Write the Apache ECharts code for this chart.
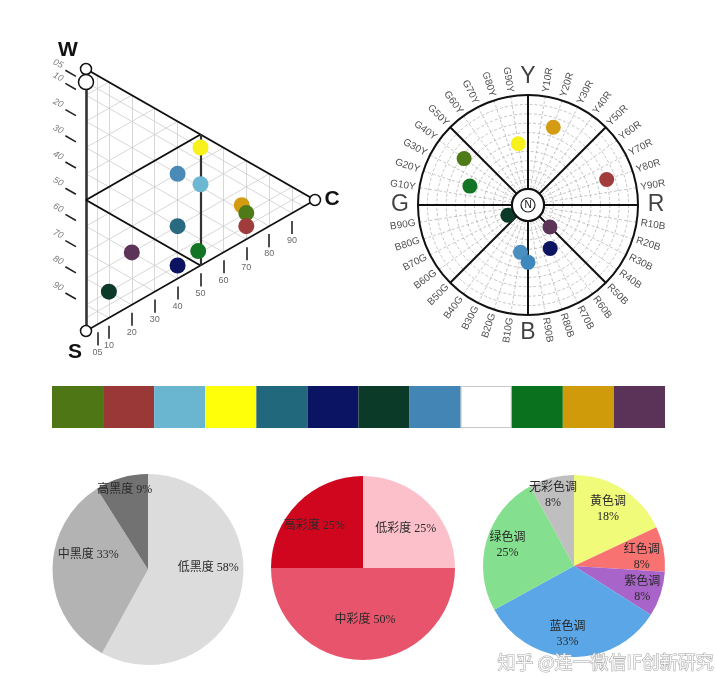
<!DOCTYPE html>
<html><head><meta charset="utf-8">
<script src="https://cdn.jsdelivr.net/npm/echarts@6/dist/echarts.min.js"></script>
<style>html,body{margin:0;padding:0;background:#fff}#c{width:715px;height:696px}</style>
</head><body><div id="c"></div>
<script>
// ---------- NCS triangle: blackness s, chromaticness c ----------
const triColors  = ['#f7f21c','#4a8ab6','#6cb8d2','#d49c12','#4f7a18','#a03c3c','#2a6a80','#127424','#5c3458','#0c1462','#0c3a28'];
const triBlack   = [5, 20, 19, 18, 20, 25, 40, 45, 60, 55, 80];
const triChroma  = [50, 40, 50, 68, 70, 70, 40, 49, 20, 40, 10];
const triTicks   = [5, 10, 20, 30, 40, 50, 60, 70, 80, 90];
const triTickLabels = ['05','10','20','30','40','50','60','70','80','90'];
const rhombusAt  = 50;
const vertexNames = ['W', '', 'S', 'C'];
const vertexBlack = [0, 5, 100, 0];
const vertexChroma = [0, 0, 0, 100];

// ---------- NCS hue circle ----------
const primaries = ['Y', 'R', 'B', 'G'];
const hueSteps  = [10, 20, 30, 40, 50, 60, 70, 80, 90];
const hueNames  = ['G90Y','Y20R','Y80R','G40Y','G20Y','B70G','R50B','R70B','B10G','B'];
const hueChroma = [49, 70, 71, 67, 48, 7, 16, 35, 34, 44];
const hueColors = ['#f7f21c','#d49c12','#a03c3c','#4f7a18','#127424','#0c3a28','#5c3458','#0c1462','#4a8fc0','#3f88bb'];

// ---------- swatches ----------
const swatchColors = ['#4e7614','#9a3838','#6ab5cf','#ffff0a','#22687c','#0b1462','#0c3a28','#4386b6','#ffffff','#0a721f','#cf9b0a','#5b3358'];

// ---------- pies ----------
const blackNames  = ['低黑度', '中黑度', '高黑度'];
const blackValues = [58, 33, 9];
const chromaNames  = ['低彩度', '中彩度', '高彩度'];
const chromaValues = [25, 50, 25];
const toneNames  = ['黄色调', '红色调', '紫色调', '蓝色调', '绿色调', '无彩色调'];
const toneValues = [18, 8, 8, 33, 25, 8];

// style tables
const blackColors  = ['#dcdcdc', '#b3b3b3', '#727272'];
const chromaColors = ['#fcc0ca', '#e8546b', '#d0061f'];
const toneColors   = ['#f0fb7a', '#f87272', '#a864c8', '#5aa6e6', '#84e08e', '#bfbfbf'];
const blackNudge  = [[11,-14],[-9,-16],[-9,-31]];
const chromaNudge = [[8,-5],[2,3],[-14,-8]];
const toneNudge   = [[8,-16],[20,0],[22,8],[-5,20],[-20,-7],[-9,-24]];

// ---------- helpers ----------
const P = (s, c) => [c, s + c / 2];
function hueAngle(h) {
  const base = {Y: 0, R: 90, B: 180, G: 270};
  if (h.length === 1) return base[h];
  const m = h.match(/^([YRBG])(\d+)([YRBG])$/);
  return base[m[1]] + (+m[2]) * 0.9;
}

// triangle geometry
const gridLines = [];
triTicks.forEach(t => {
  gridLines.push({coords: [P(0, t), P(100 - t, t)]});
  gridLines.push({coords: [P(t, 0), P(t, 100 - t)]});
  gridLines.push({coords: [P(100 - t, 0), P(0, 100 - t)]});
});
const edges = [
  {coords: [P(0, 0), P(0, 100)], lineStyle: {width: 2, color: '#111', opacity: 1}},
  {coords: [P(100, 0), P(0, 100)], lineStyle: {width: 1.6, color: '#111', opacity: 1}},
  {coords: [P(5, 0), P(100, 0)], lineStyle: {width: 2.6, color: '#333', opacity: 1}}
];
const rhombus = [
  {coords: [P(rhombusAt, 0), P(0, rhombusAt)], lineStyle: {width: 2, color: '#111', opacity: 1}},
  {coords: [P(rhombusAt, 0), P(rhombusAt, rhombusAt)], lineStyle: {width: 2, color: '#111', opacity: 1}},
  {coords: [P(0, rhombusAt), P(rhombusAt, rhombusAt)], lineStyle: {width: 2.2, color: '#333', opacity: 1}}
];
const leftDashes = triTicks.map(t => ({coords: [P(t, -9), P(t, -4.4)]}));
const bottomDashes = triTicks.map(t => ({coords: [[t, 100 - t / 2 + 3], [t, 100 - t / 2 + 8]]}));
const leftLabels = triTicks.map((t, i) => ({value: P(t, -12.6), name: triTickLabels[i]}));
const bottomLabels = triTicks.map((t, i) => ({value: [t, 100 - t / 2 + 10.6], name: triTickLabels[i]}));
const vertexOffsets = {W: [-18, -19], S: [-11, 21], C: [17, -1]};
const vertices = vertexNames.map((n, i) => ({
  value: P(vertexBlack[i], vertexChroma[i]),
  symbolSize: n === '' ? 15 : 11,
  label: n ? {show: true, formatter: n, offset: vertexOffsets[n]} : {show: false}
}));
const triPoints = triBlack.map((s, i) => ({value: P(s, triChroma[i]), itemStyle: {color: triColors[i], opacity: 1}}));

// circle
const hueLabelData = [];
primaries.forEach((p, i) => {
  const q = primaries[(i + 1) % 4];
  hueSteps.forEach(n => {
    const name = p + n + q;
    const a = hueAngle(name);
    const theta = 90 - a;
    const right = a < 180;
    hueLabelData.push({name, value: [114, a],
      label: {rotate: right ? theta : theta + 180, align: right ? 'left' : 'right'}});
  });
});
const primaryLabelData = primaries.map(p => ({name: p, value: [128, hueAngle(p)]}));
const huePoints = hueNames.map((h, i) => ({value: [hueChroma[i], hueAngle(h)], itemStyle: {color: hueColors[i], opacity: 1}}));
const spokes = [0, 45, 90, 135, 180, 225, 270, 315].map(a => ({
  type: 'line', coordinateSystem: 'polar', polarIndex: 0, data: [[0, a], [100, a]],
  symbol: 'none', silent: true, lineStyle: {color: '#111', width: 2, opacity: 1}, z: 3, animation: false
}));

const labelFont = "'Liberation Serif','DejaVu Serif','Noto Sans CJK SC',serif";
function pie(names, values, colors, nudge, center, radius, fmt) {
  return {
    type: 'pie', center, radius, startAngle: 90, clockwise: true, animation: false,
    data: names.map((n, i) => ({name: n, value: values[i], itemStyle: {color: colors[i]}})),
    label: {show: true, position: 'inner', formatter: fmt, color: '#2a2a2a', fontSize: 12, lineHeight: 15, fontFamily: labelFont},
    labelLine: {show: false},
    labelLayout: p => ({dx: nudge[p.dataIndex][0], dy: nudge[p.dataIndex][1]}),
    emphasis: {disabled: true}
  };
}

const chart = echarts.init(document.getElementById('c'), null, {renderer: 'canvas'});
chart.setOption({
  backgroundColor: '#fff',
  animation: false,
  grid: [
    {left: 40.2, top: 42.8, width: 297.7, height: 327.5},
    {left: 52, top: 386, width: 613, height: 42}
  ],
  xAxis: [
    {gridIndex: 0, type: 'value', min: -20, max: 110, show: false},
    {gridIndex: 1, type: 'category', data: swatchColors.map((c, i) => String(i)), show: false}
  ],
  yAxis: [
    {gridIndex: 0, type: 'value', min: -10, max: 115, inverse: true, show: false},
    {gridIndex: 1, type: 'value', min: 0, max: 1, show: false}
  ],
  polar: [
    {center: [528, 205], radius: [16, 110]},
    {center: [528, 205], radius: [0, 140]}
  ],
  angleAxis: [
    {polarIndex: 0, type: 'value', min: 0, max: 360, interval: 9, startAngle: 90, clockwise: true,
     axisLine: {show: true, lineStyle: {color: '#111', width: 2}}, axisTick: {show: false}, axisLabel: {show: false},
     splitLine: {show: true, lineStyle: {color: '#a0a0a0', width: 0.6, type: [3, 2]}}},
    {polarIndex: 1, type: 'value', min: 0, max: 360, startAngle: 90, clockwise: true, show: false}
  ],
  radiusAxis: [
    {polarIndex: 0, type: 'value', min: 0, max: 100, interval: 10,
     axisLine: {show: false}, axisTick: {show: false}, axisLabel: {show: false},
     splitLine: {show: true, lineStyle: {color: '#a0a0a0', width: 0.6, type: [3, 2]}}},
    {polarIndex: 1, type: 'value', min: 0, max: 140, show: false}
  ],
  graphic: [{
    type: 'text', left: 497, top: 653, silent: true, z: 100,
    style: {text: '知乎 @连一微信IF创新研究', font: "18px 'Noto Sans CJK SC'", fill: 'rgba(255,255,255,0.85)', stroke: '#a9a9a9', lineWidth: 1}
  }],
  series: [
    // triangle
    {type: 'lines', coordinateSystem: 'cartesian2d', xAxisIndex: 0, yAxisIndex: 0, data: gridLines, silent: true,
     lineStyle: {color: '#cdcdcd', width: 0.8, opacity: 1}, z: 1},
    {type: 'lines', coordinateSystem: 'cartesian2d', xAxisIndex: 0, yAxisIndex: 0, data: leftDashes.concat(bottomDashes), silent: true,
     lineStyle: {color: '#222', width: 1.6, opacity: 1}, z: 2},
    {type: 'lines', coordinateSystem: 'cartesian2d', xAxisIndex: 0, yAxisIndex: 0, data: edges.concat(rhombus), silent: true,
     lineStyle: {opacity: 1}, z: 3},
    {type: 'scatter', xAxisIndex: 0, yAxisIndex: 0, data: triPoints, symbolSize: 16, clip: false, z: 4, silent: true,
     itemStyle: {opacity: 1}},
    {type: 'scatter', xAxisIndex: 0, yAxisIndex: 0, data: vertices, clip: false, z: 5, silent: true,
     itemStyle: {color: '#fff', borderColor: '#111', borderWidth: 1.5, opacity: 1},
     label: {fontSize: 21, fontWeight: 'bold', color: '#111', fontFamily: "'Liberation Sans',Arial,sans-serif", position: 'inside'}},
    {type: 'scatter', xAxisIndex: 0, yAxisIndex: 0, data: leftLabels, symbolSize: 1, clip: false, silent: true,
     itemStyle: {color: 'rgba(0,0,0,0)'},
     label: {show: true, position: 'inside', formatter: '{b}', rotate: -28, fontSize: 9, fontStyle: 'italic', color: '#555', offset: [0, -2],
             fontFamily: "'Liberation Sans',Arial,sans-serif"}},
    {type: 'scatter', xAxisIndex: 0, yAxisIndex: 0, data: bottomLabels, symbolSize: 1, clip: false, silent: true,
     itemStyle: {color: 'rgba(0,0,0,0)'},
     label: {show: true, position: 'inside', formatter: '{b}', fontSize: 9, color: '#444', fontFamily: "'Liberation Sans',Arial,sans-serif"}},
    // circle
    ...spokes,
    {type: 'scatter', coordinateSystem: 'polar', polarIndex: 0, data: huePoints, symbolSize: 15, z: 5, silent: true, clip: false,
     itemStyle: {opacity: 1}},
    {type: 'scatter', coordinateSystem: 'polar', polarIndex: 1, data: [[0, 0]], symbolSize: 32, z: 6, silent: true,
     itemStyle: {color: '#fff', borderColor: '#111', borderWidth: 2, opacity: 1}},
    {type: 'scatter', coordinateSystem: 'polar', polarIndex: 1, data: [{value: [0, 0], name: 'N'}], symbolSize: 14, z: 7, silent: true,
     itemStyle: {color: 'rgba(0,0,0,0)', borderColor: '#222', borderWidth: 1.2, opacity: 1},
     label: {show: true, position: 'inside', formatter: '{b}', fontSize: 10, color: '#111', fontFamily: "'Liberation Sans',Arial,sans-serif"}},
    {type: 'scatter', coordinateSystem: 'polar', polarIndex: 1, data: hueLabelData, symbolSize: 1, silent: true,
     itemStyle: {color: 'rgba(0,0,0,0)'},
     label: {show: true, position: 'inside', formatter: '{b}', verticalAlign: 'middle', fontSize: 10, color: '#222',
             fontFamily: "'Liberation Sans Narrow','Liberation Sans',Arial,sans-serif"}},
    {type: 'scatter', coordinateSystem: 'polar', polarIndex: 1, data: primaryLabelData, symbolSize: 1, silent: true,
     itemStyle: {color: 'rgba(0,0,0,0)'},
     label: {show: true, position: 'inside', formatter: '{b}', fontSize: 23, color: '#111', fontFamily: "'Liberation Sans',Arial,sans-serif"}},
    // swatches
    {type: 'bar', xAxisIndex: 1, yAxisIndex: 1, barWidth: '100%', silent: true,
     data: swatchColors.map(c => ({value: 1, itemStyle: {color: c, borderColor: c === '#ffffff' ? '#c8c8c8' : c, borderWidth: c === '#ffffff' ? 1 : 0}}))},
    // pies
    pie(blackNames, blackValues, blackColors, blackNudge, [148, 569.5], 95.5, '{b} {c}%'),
    pie(chromaNames, chromaValues, chromaColors, chromaNudge, [363, 568], 92, '{b} {c}%'),
    pie(toneNames, toneValues, toneColors, toneNudge, [574, 566], 91, '{b}\n{c}%')
  ]
});
</script>
</body></html>
